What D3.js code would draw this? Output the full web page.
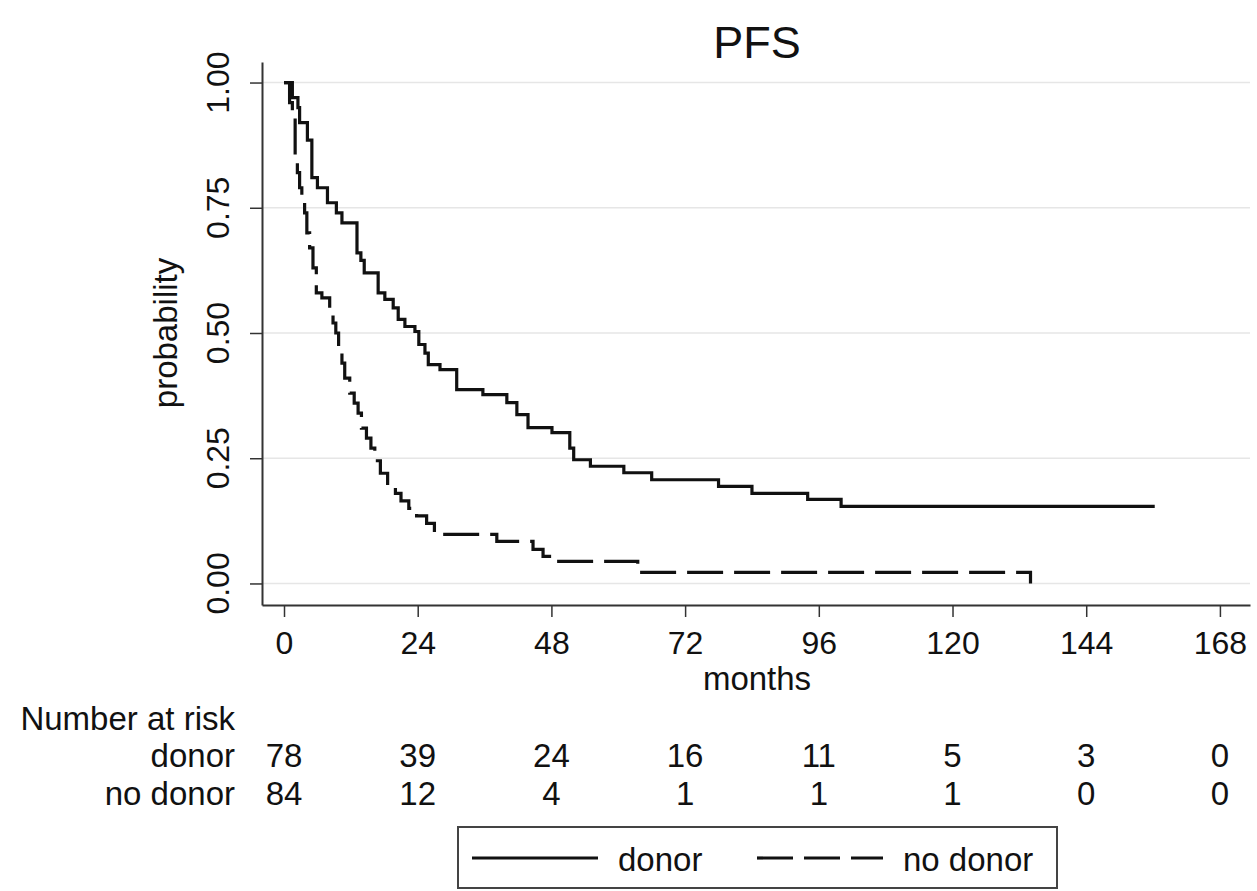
<!DOCTYPE html>
<html>
<head>
<meta charset="utf-8">
<script src="https://cdn.jsdelivr.net/npm/d3@7"></script>
<style>
  body { margin: 0; background: #fff; }
  text { font-family: "Liberation Sans", Arial, sans-serif; fill: #111; }
</style>
</head>
<body>
<script>
// Kaplan-Meier step points (months, probability)
const donorMonths = [0, 1.5, 2.5, 2.8, 4.2, 5.0, 6.0, 7.8, 9.4, 10.4, 13.1, 13.8, 14.4, 16.9, 18.1, 19.6, 20.5, 21.7, 23.5, 24.2, 25.3, 25.9, 28.0, 31.0, 35.7, 40.0, 41.8, 43.8, 48.1, 51.3, 52.0, 55.0, 61.0, 66.0, 78.0, 84.0, 94.0, 100.0, 156.3];
const donorSurv   = [1.00, 0.97, 0.95, 0.92, 0.885, 0.81, 0.79, 0.76, 0.74, 0.72, 0.66, 0.645, 0.62, 0.58, 0.567, 0.55, 0.527, 0.513, 0.503, 0.477, 0.46, 0.437, 0.427, 0.387, 0.377, 0.361, 0.337, 0.311, 0.301, 0.27, 0.247, 0.234, 0.221, 0.207, 0.194, 0.18, 0.168, 0.154, 0.154];

const noDonorMonths = [0, 1.0, 1.5, 2.0, 2.4, 2.8, 3.2, 3.7, 4.1, 4.6, 5.2, 5.8, 6.8, 8.2, 8.8, 9.3, 9.8, 10.4, 10.9, 11.8, 12.6, 13.3, 13.9, 14.8, 15.6, 16.3, 17.3, 18.6, 20.0, 21.0, 22.4, 23.8, 25.6, 27.0, 38.2, 44.7, 46.5, 48.3, 63.5, 134.0];
const noDonorSurv   = [1.00, 0.96, 0.93, 0.85, 0.82, 0.79, 0.76, 0.74, 0.70, 0.67, 0.63, 0.58, 0.57, 0.55, 0.52, 0.50, 0.47, 0.44, 0.41, 0.38, 0.36, 0.34, 0.31, 0.29, 0.27, 0.245, 0.22, 0.195, 0.18, 0.165, 0.15, 0.135, 0.12, 0.098, 0.084, 0.068, 0.054, 0.044, 0.022, 0.0];

const xTicks = [0, 24, 48, 72, 96, 120, 144, 168];
const yTicks = [0, 0.25, 0.5, 0.75, 1];
const groups = ["donor", "no donor"];
const riskDonor = [78, 39, 24, 16, 11, 5, 3, 0];
const riskNoDonor = [84, 12, 4, 1, 1, 1, 0, 0];

const W = 1257, H = 891;
const fsTick = 32, fs = 33;

const svg = d3.select("body").append("svg")
    .attr("width", W)
    .attr("height", H);

svg.append("rect").attr("width", W).attr("height", H).attr("fill", "#fff");

const x = d3.scaleLinear().domain([-3.95, 173.4]).range([262, 1250]);
const y = d3.scaleLinear().domain([-0.043, 1.041]).range([605, 62]);

// gridlines
svg.append("g")
  .selectAll("line")
  .data(yTicks)
  .enter().append("line")
    .attr("x1", x(-3.95))
    .attr("x2", x(173.4))
    .attr("y1", d => y(d))
    .attr("y2", d => y(d))
    .attr("stroke", "#e6e6e6")
    .attr("stroke-width", 1.5);

// title
svg.append("text")
    .attr("x", 757)
    .attr("y", 58)
    .attr("text-anchor", "middle")
    .style("font-size", "45px")
    .text("PFS");

// x axis
const xAxis = svg.append("g")
    .attr("transform", `translate(0,605)`)
    .call(d3.axisBottom(x).tickValues(xTicks).tickSize(12).tickSizeOuter(0).tickPadding(14));
xAxis.select(".domain").attr("stroke", "#333").attr("stroke-width", 2);
xAxis.selectAll(".tick line").attr("stroke", "#333").attr("stroke-width", 1.5);
xAxis.selectAll(".tick text")
    .style("font-size", fsTick + "px")
    .style("font-family", "Liberation Sans, Arial, sans-serif")
    .attr("fill", "#111");

svg.append("text")
    .attr("x", 757)
    .attr("y", 690)
    .attr("text-anchor", "middle")
    .style("font-size", fs + "px")
    .text("months");

// y axis
const yAxis = svg.append("g")
    .attr("transform", `translate(262,0)`)
    .call(d3.axisLeft(y).tickValues(yTicks).tickSize(12).tickSizeOuter(0).tickFormat(""));
yAxis.select(".domain").attr("stroke", "#333").attr("stroke-width", 2);
yAxis.selectAll(".tick line").attr("stroke", "#333").attr("stroke-width", 1.5);

svg.append("g")
  .selectAll("text")
  .data(yTicks)
  .enter().append("text")
    .attr("transform", d => `translate(229,${y(d)}) rotate(-90)`)
    .attr("text-anchor", "middle")
    .style("font-size", fsTick + "px")
    .text(d => d3.format(".2f")(d));

svg.append("text")
    .attr("transform", `translate(177,${y(0.5)}) rotate(-90)`)
    .attr("text-anchor", "middle")
    .style("font-size", fs + "px")
    .text("probability");

// curves
const line = d3.line()
    .x(d => x(d[0]))
    .y(d => y(d[1]))
    .curve(d3.curveStepAfter);

svg.append("path")
    .datum(d3.zip(donorMonths, donorSurv))
    .attr("fill", "none")
    .attr("stroke", "#111")
    .attr("stroke-width", 3.2)
    .attr("d", line);

svg.append("path")
    .datum(d3.zip(noDonorMonths, noDonorSurv))
    .attr("fill", "none")
    .attr("stroke", "#111")
    .attr("stroke-width", 3.2)
    .attr("stroke-dasharray", "36,11")
    .attr("d", line);

// number at risk table
svg.append("text")
    .attr("x", 235)
    .attr("y", 730)
    .attr("text-anchor", "end")
    .style("font-size", fs + "px")
    .text("Number at risk");

[riskDonor, riskNoDonor].forEach((row, i) => {
    const ry = 767 + i * 38;
    svg.append("text")
        .attr("x", 235)
        .attr("y", ry)
        .attr("text-anchor", "end")
        .style("font-size", fs + "px")
        .text(groups[i]);
    svg.append("g")
      .selectAll("text")
      .data(row)
      .enter().append("text")
        .attr("x", (d, j) => x(xTicks[j]))
        .attr("y", ry)
        .attr("text-anchor", "middle")
        .style("font-size", fs + "px")
        .text(d => d);
});

// legend
const legend = svg.append("g");
legend.append("rect")
    .attr("x", 458)
    .attr("y", 827)
    .attr("width", 599)
    .attr("height", 61)
    .attr("fill", "none")
    .attr("stroke", "#444")
    .attr("stroke-width", 2);

const legendItems = [
    {x: 472, dash: null},
    {x: 757, dash: "36,11"}
];
legendItems.forEach((item, i) => {
    legend.append("line")
        .attr("x1", item.x)
        .attr("x2", item.x + 126)
        .attr("y1", 858)
        .attr("y2", 858)
        .attr("stroke", "#111")
        .attr("stroke-width", 3.2)
        .attr("stroke-dasharray", item.dash);
    legend.append("text")
        .attr("x", item.x + 146)
        .attr("y", 871)
        .style("font-size", fs + "px")
        .text(groups[i]);
});
</script>
</body>
</html>
